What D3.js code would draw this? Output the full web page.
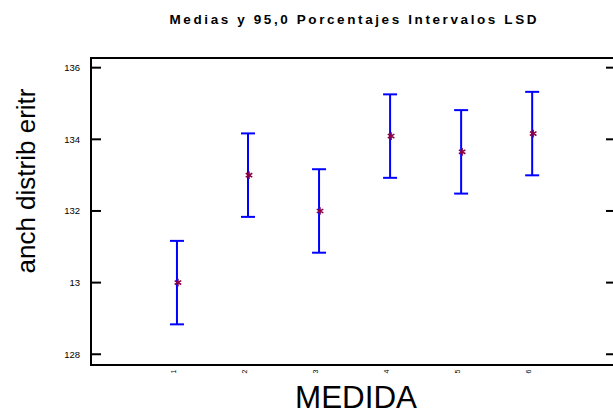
<!DOCTYPE html>
<html><head><meta charset="utf-8">
<script src="https://cdn.jsdelivr.net/npm/d3@7"></script>
<style>html,body{margin:0;padding:0;background:#fff;overflow:hidden}</style>
</head><body>
<svg id="c" width="613" height="415"></svg>
<script>
const categories = ["1","2","3","4","5","6"];
const means = [130.0, 133.0, 132.0, 134.09, 133.65, 134.16];
const halfWidths = [1.165, 1.165, 1.165, 1.165, 1.165, 1.165];
const yTickValues = [128, 130, 132, 134, 136];
const yTickLabels = ["128", "13", "132", "134", "136"];
const title = "Medias y 95,0 Porcentajes Intervalos LSD";
const xTitle = "MEDIDA";
const yTitle = "anch distrib eritr";

const svg = d3.select("#c");
const L = 91, R = 616, T = 58, B = 365;
const x = d3.scaleLinear().domain([-0.21, 7.18]).range([L, R]);
const y = d3.scaleLinear().domain([127.7, 136.27]).range([B, T]);
const font = "Arial, 'Liberation Sans', sans-serif";

// title
svg.append("text").attr("x", 353).attr("y", 24).attr("text-anchor", "middle")
  .attr("font-family", font).attr("font-weight", "bold").attr("font-size", 13.5)
  .attr("textLength", 367).attr("lengthAdjust", "spacing")
  .text(title);

// frame
svg.append("rect").attr("x", L).attr("y", T).attr("width", R - L).attr("height", B - T)
  .attr("fill", "none").attr("stroke", "#000").attr("stroke-width", 2);

// y ticks left & right (inward)
const yt = svg.append("g");
yTickValues.forEach((v, i) => {
  yt.append("line").attr("x1", L).attr("x2", L + 10).attr("y1", y(v)).attr("y2", y(v))
    .attr("stroke", "#000").attr("stroke-width", 2);
  yt.append("line").attr("x1", R - 10).attr("x2", R).attr("y1", y(v)).attr("y2", y(v))
    .attr("stroke", "#000").attr("stroke-width", 2);
  yt.append("text").attr("x", 80).attr("y", y(v)).attr("dy", "0.35em")
    .attr("text-anchor", "end").attr("font-family", font).attr("font-size", 9.5)
    .text(yTickLabels[i]);
});

// x tick labels (rotated)
categories.forEach((c, i) => {
  const xi = x(i + 1);
  svg.append("text").attr("transform", `translate(${xi - 1},371.5) rotate(-90)`)
    .attr("text-anchor", "middle").attr("dy", "0")
    .attr("font-family", font).attr("font-size", 7).text(c);
});

// error bars
const g = svg.append("g");
means.forEach((m, i) => {
  const xi = x(i + 1);
  const lo = y(m - halfWidths[i]), hi = y(m + halfWidths[i]);
  g.append("line").attr("x1", xi).attr("x2", xi).attr("y1", lo).attr("y2", hi)
    .attr("stroke", "#0000ff").attr("stroke-width", 2);
  [lo, hi].forEach(yy => g.append("line").attr("x1", xi - 7).attr("x2", xi + 7)
    .attr("y1", yy).attr("y2", yy).attr("stroke", "#0000ff").attr("stroke-width", 2));
  g.append("path").attr("d", d3.symbol().type(d3.symbolAsterisk).size(40)())
    .attr("transform", `translate(${xi + 1},${y(m)})`)
    .attr("fill", "none").attr("stroke", "#8b0045").attr("stroke-width", 1.5);
});

// axis titles
svg.append("text").attr("x", 356).attr("y", 408).attr("text-anchor", "middle")
  .attr("font-family", font).attr("font-size", 31).attr("textLength", 122)
  .attr("lengthAdjust", "spacingAndGlyphs").text(xTitle);
svg.append("text").attr("transform", "translate(35,181) rotate(-90)")
  .attr("text-anchor", "middle").attr("font-family", font).attr("font-size", 26)
  .text(yTitle);
</script>
</body></html>
